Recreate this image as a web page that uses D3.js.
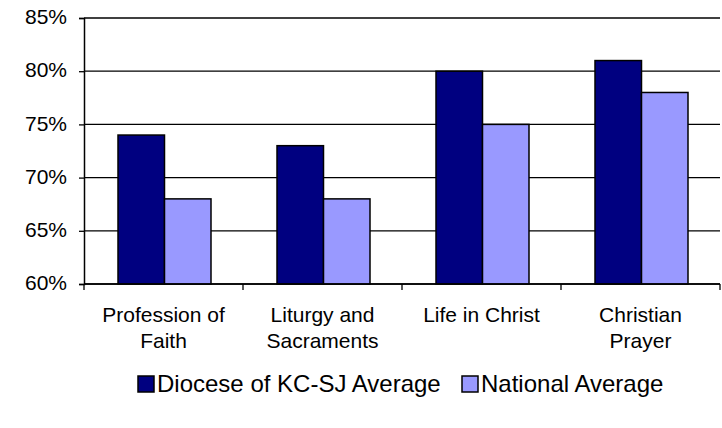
<!DOCTYPE html>
<html>
<head>
<meta charset="utf-8">
<script src="https://cdn.jsdelivr.net/npm/d3@7"></script>
<style>
  body { margin: 0; background: #fff; }
  text { font-family: Arial, "Liberation Sans", sans-serif; fill: #000; }
</style>
</head>
<body>
<div id="chart"></div>
<script>
/* ── Diocese vs National averages, grouped bars ── */

const categories = [['Profession of', 'Faith'], ['Liturgy and', 'Sacraments'], ['Life in Christ'], ['Christian', 'Prayer']];
const seriesNames = ['Diocese of KC-SJ Average', 'National Average'];
const diocese  = [74, 73, 80, 81];
const national = [68, 68, 75, 78];
const yTicks   = [60, 65, 70, 75, 80, 85];

const colors = ['#000080', '#9999FF'];

const width = 722, height = 428;
const marginL = 84, marginR = 2, marginT = 18, marginB = 144;
const plotW = width - marginL - marginR;
const plotH = height - marginT - marginB;

const svg = d3.select('#chart').append('svg')
  .attr('width', width)
  .attr('height', height);

const g = svg.append('g').attr('transform', `translate(${marginL},${marginT})`);

const idx = categories.map((d, i) => i);
const x = d3.scaleBand().domain(idx).range([0, plotW]);
const y = d3.scaleLinear().domain([60, 85]).range([plotH, 0]);

// Grid lines
g.selectAll('.grid')
  .data(yTicks)
  .join('line')
  .attr('x1', 0).attr('x2', plotW)
  .attr('y1', d => y(d)).attr('y2', d => y(d))
  .attr('stroke', '#000').attr('stroke-width', 1.3);

// Bars
const barW = 46.5;
const offset = 34;
const rows = diocese.map((v, i) => ({ i, vals: [v, national[i]] }));

const groups = g.selectAll('.grp')
  .data(rows)
  .join('g')
  .attr('transform', d => `translate(${x(d.i) + offset},0)`);

groups.selectAll('rect')
  .data(d => d.vals.map((v, s) => ({ v, s })))
  .join('rect')
  .attr('x', d => d.s * barW)
  .attr('y', d => y(d.v))
  .attr('width', barW)
  .attr('height', d => plotH - y(d.v))
  .attr('fill', d => colors[d.s])
  .attr('stroke', '#000')
  .attr('stroke-width', 1.5);

// Y axis
const yAxis = g.append('g')
  .call(d3.axisLeft(y).tickValues(yTicks).tickSize(5).tickFormat(d => d + '%'));
yAxis.select('.domain').attr('stroke', '#000').attr('stroke-width', 1.5);
yAxis.selectAll('.tick line').attr('stroke', '#000').attr('stroke-width', 1.3);
yAxis.selectAll('.tick text')
  .attr('x', -17)
  .attr('dy', '0.27em')
  .attr('font-size', 21)
  .attr('font-family', 'Arial, "Liberation Sans", sans-serif');

// X axis
const xAxis = g.append('g')
  .attr('transform', `translate(0,${plotH})`);
xAxis.append('line')
  .attr('x1', 0).attr('x2', plotW)
  .attr('stroke', '#000').attr('stroke-width', 1.5);
xAxis.selectAll('.xtick')
  .data(idx.concat([categories.length]))
  .join('line')
  .attr('x1', d => d < categories.length ? x(d) : plotW)
  .attr('x2', d => d < categories.length ? x(d) : plotW)
  .attr('y1', 0).attr('y2', 6)
  .attr('stroke', '#000').attr('stroke-width', 1.3);

const labels = xAxis.selectAll('.xlab')
  .data(categories)
  .join('text')
  .attr('text-anchor', 'middle')
  .attr('font-size', 21)
  .attr('transform', (d, i) => `translate(${x(i) + x.bandwidth() / 2},${38})`);
labels.selectAll('tspan')
  .data(d => d)
  .join('tspan')
  .attr('x', 0)
  .attr('dy', (d, j) => j === 0 ? 0 : 26)
  .text(d => d);

// Legend
const legend = svg.append('g').attr('transform', 'translate(138,376)');
const legItems = [{ x: 0, s: 0 }, { x: 324, s: 1 }];
legItems.forEach(it => {
  legend.append('rect')
    .attr('x', it.x).attr('y', 0)
    .attr('width', 16).attr('height', 16)
    .attr('fill', colors[it.s])
    .attr('stroke', '#000').attr('stroke-width', 1.5);
  legend.append('text')
    .attr('x', it.x + 19).attr('y', 16)
    .attr('font-size', 24)
    .text(seriesNames[it.s]);
});
</script>
</body>
</html>
